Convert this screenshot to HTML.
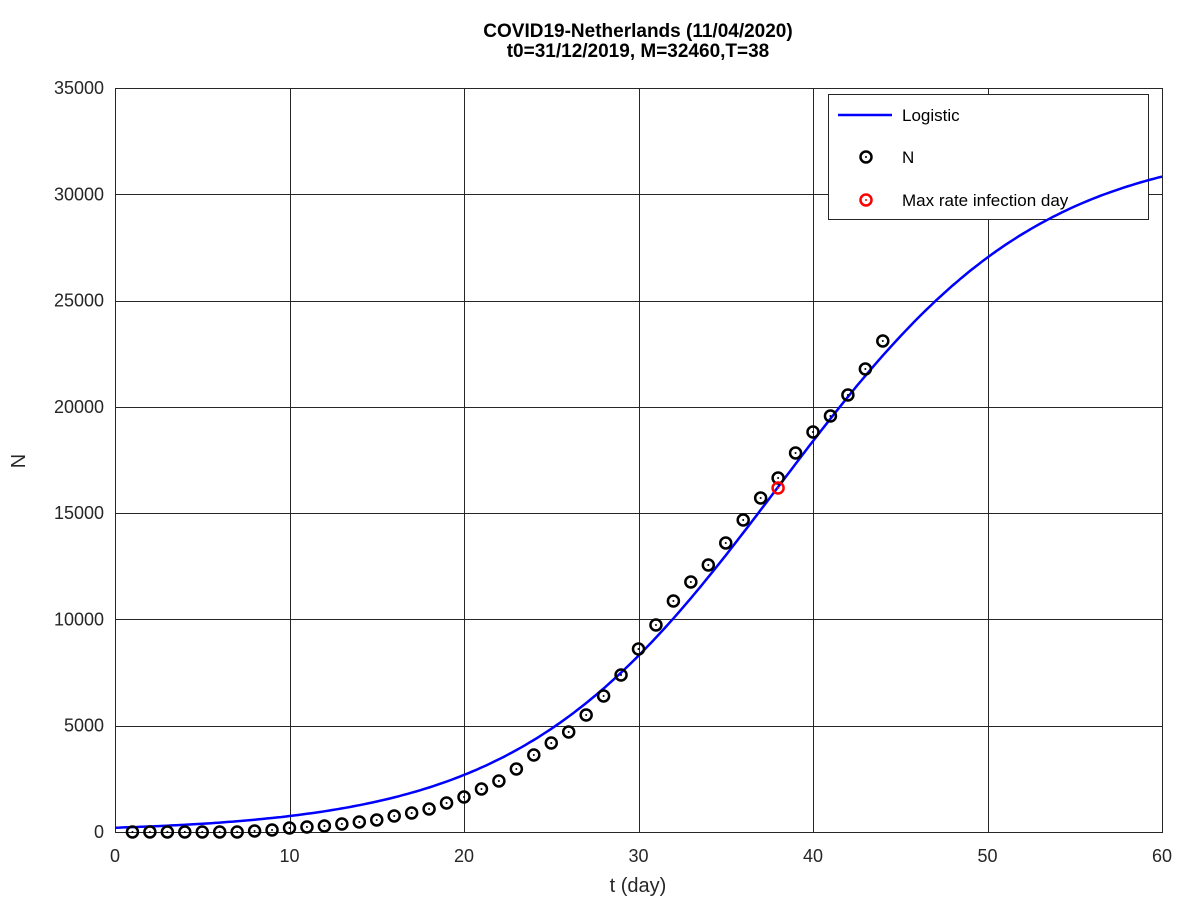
<!DOCTYPE html>
<html><head><meta charset="utf-8"><style>
html,body{margin:0;padding:0;background:#fff;}
svg text{font-family:"Liberation Sans",sans-serif;}
</style></head><body>
<svg id="s" width="1200" height="900" xmlns="http://www.w3.org/2000/svg">
<rect width="1200" height="900" fill="#fff"/>
<g id="grid" stroke="#262626" stroke-width="1"></g>
<rect x="115.5" y="88.5" width="1047" height="744" fill="none" stroke="#262626" stroke-width="1"/>
<g id="ticks" font-size="18" fill="#262626"></g>
<text x="638" y="37" text-anchor="middle" font-size="19" font-weight="bold" fill="#000">COVID19-Netherlands (11/04/2020)</text>
<text x="638" y="57" text-anchor="middle" font-size="19" font-weight="bold" fill="#000">t0=31/12/2019, M=32460,T=38</text>
<text x="638" y="892" text-anchor="middle" font-size="20" fill="#262626">t (day)</text>
<text transform="translate(25,461) rotate(-90)" text-anchor="middle" font-size="20" fill="#262626">N</text>
<rect x="828.5" y="94.5" width="320" height="125" fill="#fff" stroke="#262626" stroke-width="1"/>
<line x1="838" y1="115" x2="892" y2="115" stroke="#0000ff" stroke-width="2.5"/>
<text x="902" y="121" font-size="17" fill="#000">Logistic</text>
<circle cx="866" cy="157" r="5.5" fill="none" stroke="#000" stroke-width="2.5"/><circle cx="866" cy="157" r="1" fill="#000"/>
<text x="902" y="163" font-size="17" fill="#000">N</text>
<circle cx="866" cy="200" r="5.5" fill="none" stroke="#ff0000" stroke-width="2.5"/><circle cx="866" cy="200" r="1" fill="#ff0000"/>
<text x="902" y="206" font-size="17" fill="#000">Max rate infection day</text>
<polyline id="curve" fill="none" stroke="#0000ff" stroke-width="2.5"/>
<g id="pts"></g>
</svg>
<script>
var ns="http://www.w3.org/2000/svg";
function X(t){return 115+t*(1047/60);}
function Y(v){return 832-v*744/35000;}
function el(n,a,p){var e=document.createElementNS(ns,n);for(var k in a)e.setAttribute(k,a[k]);p.appendChild(e);return e;}
var g=document.getElementById("grid"),tk=document.getElementById("ticks");
for(var t=0;t<=60;t+=10){var x=Math.round(X(t))+0.5;if(t>0&&t<60)el("line",{x1:x,y1:88,x2:x,y2:832},g);
var tx=el("text",{x:X(t),y:862,"text-anchor":"middle"},tk);tx.textContent=t;}
for(var v=0;v<=35000;v+=5000){var y=Math.round(Y(v))+0.5;if(v>0&&v<35000)el("line",{x1:115,y1:y,x2:1162,y2:y},g);
var ty=el("text",{x:104,y:Y(v)+6,"text-anchor":"end"},tk);ty.textContent=v;}
var pts=[];for(var t=0;t<=60;t+=0.25){var n=32460/(1+Math.exp(-(t-38)/7.48));pts.push(X(t).toFixed(1)+","+Y(n).toFixed(1));}
document.getElementById("curve").setAttribute("points",pts.join(" "));
var py=[832,832,832,832,832,832,832,831,830,828,827,826,824,822,820,816,813,809,803,797,789,781,769,755,743,732,715,696,675,649,625,601,582,565,543,520,498,478,453,432,416,395,369,341];
var pg=document.getElementById("pts");
for(var i=0;i<py.length;i++){var cx=X(i+1);el("circle",{cx:cx,cy:py[i],r:5.5,fill:"none",stroke:"#000","stroke-width":2.5},pg);el("circle",{cx:cx,cy:py[i],r:1,fill:"#000"},pg);}
el("circle",{cx:X(38),cy:488,r:5.5,fill:"none",stroke:"#ff0000","stroke-width":2.5},pg);el("circle",{cx:X(38),cy:488,r:1,fill:"#f00"},pg);
</script>
</body></html>
